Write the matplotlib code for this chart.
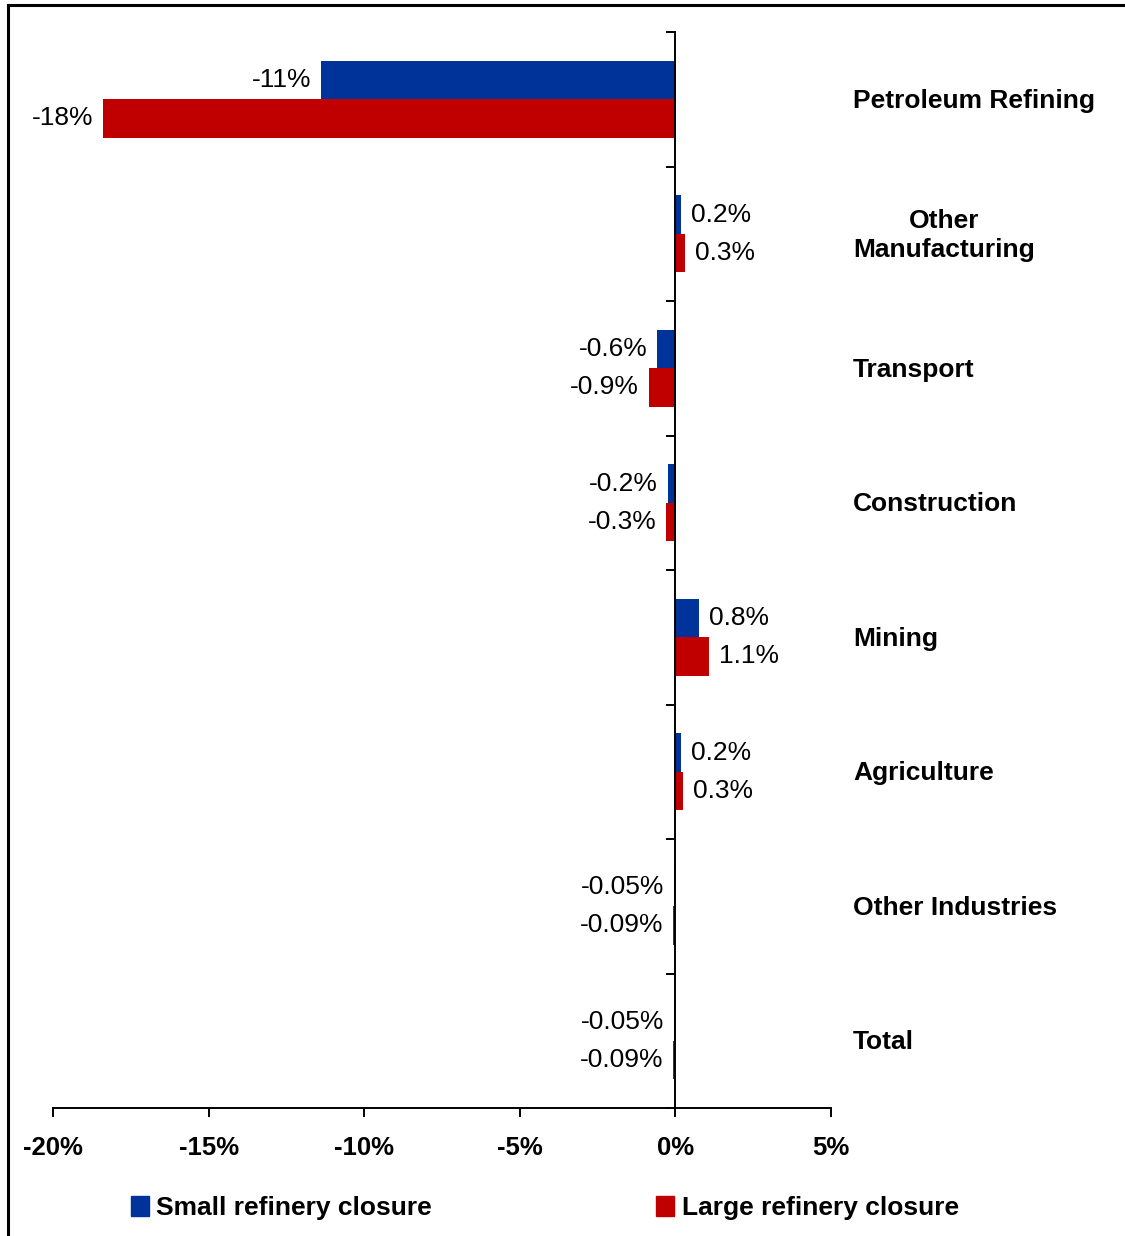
import numpy as np
import matplotlib
matplotlib.use('Agg')
import matplotlib.pyplot as plt
from matplotlib.lines import Line2D
from matplotlib.patches import Patch

plt.rcParams['font.family'] = ['Liberation Sans', 'DejaVu Sans']

# sector results, % change from base
sectors = ['Petroleum Refining', 'Other\nManufacturing', 'Transport', 'Construction',
           'Mining', 'Agriculture', 'Other Industries', 'Total']
small_closure = [-11.4, 0.18, -0.58, -0.24, 0.76, 0.18, -0.05, -0.05]
large_closure = [-18.4, 0.32, -0.86, -0.29, 1.08, 0.26, -0.09, -0.09]
label_decimals = [0, 1, 1, 1, 1, 1, 2, 2]

blue = '#003399'
red = '#C00000'

fig = plt.figure(figsize=(11.25, 12.36), dpi=100)
W, H = 1125, 1236
ax = fig.add_axes([53 / W, 1 - 1108 / H, (831 - 53) / W, (1108 - 32) / H])

y = np.arange(len(sectors))
h = 0.286
b1 = ax.barh(y - h / 2, small_closure, height=h, color=blue)
b2 = ax.barh(y + h / 2, large_closure, height=h, color=red)

lab1 = [f'{v:.{d}f}%' for v, d in zip(small_closure, label_decimals)]
lab2 = [f'{v:.{d}f}%' for v, d in zip(large_closure, label_decimals)]
ax.bar_label(b1, labels=lab1, padding=7, fontsize=19)
ax.bar_label(b2, labels=lab2, padding=7, fontsize=19)

ax.set_xlim(-20, 5)
ax.set_ylim(len(sectors) - 0.5, -0.5)

# vertical axis through zero, ticks between categories
ax.spines['left'].set_position(('data', 0))
ax.spines['right'].set_visible(False)
ax.spines['top'].set_visible(False)
for s in ['left', 'bottom']:
    ax.spines[s].set_linewidth(1.4)
ax.set_yticks(np.arange(-0.5, len(sectors), 1.0))
ax.set_yticklabels([])
ax.tick_params(axis='y', direction='out', length=6.5, width=1.4)

ax.set_xticks(np.arange(-20, 6, 5))
ax.set_xticklabels([f'{t}%' for t in range(-20, 6, 5)], fontsize=18.5, fontweight='bold')
ax.tick_params(axis='x', direction='out', length=6.5, width=1.4, pad=14)

# category names to the right of the plot
for i, name in enumerate(sectors):
    ax.text((853 - 53) / (831 - 53), i + 0.012, name, transform=ax.get_yaxis_transform(),
            ha='left', va='center', multialignment='center',
            fontsize=19, fontweight='bold', linespacing=1.3)

handles = [Patch(color=blue, label='Small refinery closure'),
           Patch(color=red, label='Large refinery closure')]
fig.legend(handles=handles, loc='center left', bbox_to_anchor=(131 / W, 1 - 1208 / H),
           ncol=2, frameon=False, prop={'size': 19, 'weight': 'bold'},
           handlelength=0.68, handleheight=0.78, handletextpad=0.28,
           columnspacing=8.5, borderpad=0, borderaxespad=0)

# outer frame (left and top edges)
fig.add_artist(Line2D([8 / W, 8 / W], [0, 1 - 5 / H], color='black', lw=2.2))
fig.add_artist(Line2D([8 / W, 1], [1 - 5 / H, 1 - 5 / H], color='black', lw=2.2))

fig.savefig('out.png', dpi=100)
